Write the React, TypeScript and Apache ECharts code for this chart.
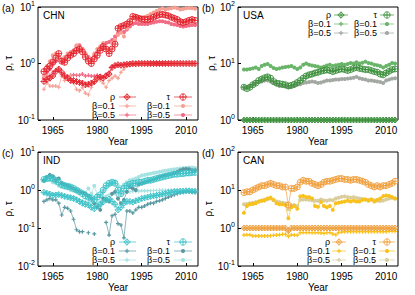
import React, { useEffect, useRef } from 'react';
import * as echarts from 'echarts';

// ---------- data ----------
const YEARS: number[] = [];
for (let y = 1962; y <= 2013; y++) YEARS.push(y);
const X_TICKS = [1965, 1980, 1995, 2010];

// CHN
const CHN_RHO = [0.48,0.52,0.55,0.6,0.72,0.8,0.7,0.6,0.55,0.5, 0.5,0.48,0.46,0.45,0.42,0.43,0.45,0.48,0.56,0.58, 0.55,0.6,0.65,0.85,0.92,0.95,0.93,0.95,0.97,0.98, 1.0,0.99,1.0,1.0,1.0,1.0,1.0,1.0,1.0,1.0, 1.0,1.0,1.0,1.0,1.0,1.0,1.0,1.0,1.0,1.0, 1.0,1.0];
const CHN_TAU = [0.72,0.8,0.9,1.05,1.25,1.5,1.1,1.05,1.25,1.4, 1.5,1.7,1.8,1.6,1.3,1.1,1.0,1.2,1.4,1.7, 2.0,1.8,1.5,1.8,2.2,4.2,4.5,4.7,5.0,5.5, 6.8,6.6,6.3,6.1,6.0,6.0,6.2,6.6,7.0,7.3, 7.4,7.2,7.0,6.6,6.3,6.0,5.5,5.3,5.5,5.8, 6.0,5.8];
const CHN_B01_RHO = [0.35,0.45,0.4,0.4,0.4,0.38,0.6,0.5,0.55,0.6, 0.45,0.35,0.33,0.38,0.3,0.28,0.38,0.45,0.6,0.5, 0.45,0.38,0.5,0.55,0.6,0.55,0.7,0.8,0.9,0.92, 0.95,0.97,0.98,1.0,1.0,1.0,1.0,1.0,1.0,1.0, 1.0,1.0,1.0,1.0,1.0,1.0,1.0,1.0,1.0,1.0, 1.0,1.0];
const CHN_B01_TAU = [0.6,0.9,1.1,1.4,1.5,1.3,1.2,1.3,1.5,1.6, 1.6,2.1,1.9,1.8,1.5,1.3,1.1,1.5,1.8,2.0, 2.3,1.8,1.8,2.3,2.6,3.2,3.5,3.0,4.2,5.5, 6.5,6.8,6.5,6.5,6.7,7.0,7.5,8.0,8.5,9.0, 9.5,9.0,9.3,9.5,9.8,9.5,9.0,9.2,9.5,9.6, 9.5,9.3];
const CHN_B05_RHO = [0.55,0.6,0.62,0.7,0.75,0.8,0.65,0.6,0.6,0.62, 0.63,0.62,0.62,0.65,0.6,0.62,0.6,0.6,0.62,0.6, 0.58,0.65,0.7,0.88,0.92,0.95,0.95,0.96,0.97,0.98, 1.0,1.0,1.0,1.0,1.0,1.0,1.0,1.0,1.0,1.0, 1.0,1.0,1.0,1.0,1.0,1.0,1.0,1.0,1.0,1.0, 1.0,1.0];
const CHN_B05_TAU = [0.55,0.7,0.8,1.0,1.1,1.3,1.1,1.2,1.4,1.5, 1.7,2.0,2.1,1.8,1.5,1.3,1.2,1.4,1.6,1.8, 2.1,2.3,2.4,2.6,3.0,3.4,3.6,3.6,4.0,4.5, 5.0,5.2,5.0,5.0,5.0,5.0,5.2,5.3,5.5,5.6, 5.6,5.4,5.3,5.0,4.9,4.8,4.6,4.5,4.6,4.7, 4.8,4.8];

// USA
const USA_RHO = [1,1,1,1,1,1,1,1,1,1, 1,1,1,1,1,1,1,1,1,1, 1,1,1,1,1,1,1,1,1,1, 1,1,1,1,1,1,1,1,1,1, 1,1,1,1,1,1,1,1,1,1, 1,1];
const USA_TAU = [3.8,3.6,3.8,4.2,4.5,5.0,5.3,5.6,5.8,5.5, 4.8,4.5,4.4,4.3,4.2,4.0,4.1,4.3,4.6,5.0, 5.5,6.0,6.3,6.5,6.8,7.0,7.3,7.5,7.7,7.5, 7.2,7.5,7.8,8.0,7.8,7.5,7.8,8.2,8.5,8.2, 8.0,7.8,7.8,7.5,7.2,7.0,6.5,6.3,6.8,7.3, 7.8,8.0];
const USA_B01_RHO = [1,1,1,1,1,1,1,1,1,1, 1,1,1,1,1,1,1,1,1,1, 1,1,1,1,1,1,1,1,1,1, 1,1,1,1,1,1,1,1,1,1, 1,1,1,1,1,1,1,1,1,1, 1,1];
const USA_B01_TAU = [7.8,7.8,8.0,8.2,8.5,8.0,9.0,9.5,9.8,9.0, 8.3,8.0,8.2,8.5,8.7,8.8,9.0,8.5,8.0,8.5, 9.5,10.0,9.5,9.2,9.0,8.8,8.5,8.8,9.2,9.5, 9.0,9.3,9.5,9.8,9.5,9.8,10.2,10.0,10.5,10.0, 10.3,10.8,10.2,10.0,9.5,9.3,9.0,8.5,9.0,9.5, 10.2,10.0];
const USA_B05_RHO = [1,1,1,1,1,1,1,1,1,1, 1,1,1,1,1,1,1,1,1,1, 1,1,1,1,1,1,1,1,1,1, 1,1,1,1,1,1,1,1,1,1, 1,1,1,1,1,1,1,1,1,1, 1,1];
const USA_B05_TAU = [3.8,3.8,4.0,4.2,4.5,4.7,4.8,5.0,5.0,4.8, 4.5,4.3,4.0,4.0,3.9,3.8,3.9,4.0,4.2,4.3, 4.5,4.6,4.7,4.8,4.7,4.5,4.6,4.8,5.0,5.0, 5.1,5.2,5.2,5.3,5.3,5.4,5.5,5.6,5.8,5.5, 5.3,5.2,5.0,5.0,4.9,4.8,4.7,4.5,5.0,5.2, 5.4,5.5];

// IND
const IND_RHO = [0.87,0.82,0.78,0.72,0.74,0.76,0.72,0.68,0.65,0.62, 0.6,0.55,0.5,0.45,0.42,0.4,0.35,0.32,0.38,0.42, 0.48,0.55,0.58,0.5,0.42,0.3,0.35,0.45,0.5,0.5, 0.48,0.52,0.55,0.6,0.62,0.65,0.68,0.7,0.72,0.75, 0.78,0.8,0.85,0.87,0.9,0.9,0.92,0.93,0.95,0.95, 0.93,0.92];
const IND_TAU = [1.9,2.0,2.1,2.0,1.8,1.6,1.4,1.3,1.25,1.2, 1.1,1.0,0.9,0.8,0.7,0.65,0.6,0.55,0.65,0.75, 1.0,1.3,1.5,1.6,1.5,1.0,0.8,1.1,1.3,1.4, 1.5,1.5,1.6,1.6,1.7,1.8,1.8,1.9,2.0,2.1, 2.2,2.3,2.4,2.5,2.6,2.6,2.7,2.7,2.8,2.8, 2.9,2.9];
const IND_B01_RHO = [0.5,0.55,0.6,0.55,0.55,0.45,0.22,0.35,0.33,0.28, 0.17,0.09,0.08,0.08,null,0.075,null,0.07,null,null, null,0.14,0.065,0.21,0.23,0.13,0.12,0.055,0.28,0.28, 0.25,0.3,0.35,0.35,0.38,0.42,0.45,0.45,0.5,0.52, 0.55,0.6,0.65,0.7,0.75,0.8,0.85,0.88,0.9,0.9, 0.88,0.88];
const IND_B01_TAU = [1.8,2.2,2.5,2.3,1.8,2.0,1.5,1.4,1.3,1.2, 1.1,1.0,0.9,0.85,0.8,0.7,0.6,0.45,0.35,0.3, 0.6,0.55,0.5,0.8,0.9,0.6,0.45,0.55,0.9,1.2, 1.1,1.0,1.4,1.5,1.6,1.7,1.8,1.9,2.0,2.2, 2.3,2.4,2.5,2.6,2.8,3.0,3.3,3.5,3.6,3.5, 3.3,3.3];
const IND_B05_RHO = [0.85,0.82,0.8,0.78,0.78,0.78,0.75,0.72,0.7,0.68, 0.65,0.6,0.55,0.52,0.5,0.48,0.45,0.42,0.45,0.5, 0.6,0.7,0.75,0.8,0.8,0.6,0.75,0.85,0.9,0.9, 0.92,0.92,0.93,0.95,0.95,0.96,0.96,0.97,0.97,0.98, 0.98,0.98,0.99,0.99,1.0,1.0,1.0,1.0,1.0,1.0, 1.0,1.0];
const IND_B05_TAU = [1.7,1.9,1.8,1.6,1.5,1.3,1.2,1.15,1.1,1.0, 0.95,0.9,0.9,0.85,0.85,1.1,0.8,1.3,0.75,0.7, 0.9,1.2,1.4,1.6,1.7,1.3,1.2,1.4,1.6,1.8, 1.9,2.0,2.2,2.4,2.5,2.6,2.7,2.8,2.9,3.0, 3.1,3.2,3.3,3.4,3.5,3.6,3.7,3.8,3.8,3.9, 3.9,3.8];

// CAN
const CAN_RHO = [1,1,1,1,1,1,1,1,1,1, 1,1,1,1,1,0.85,1,1,1,1, 1,1,1,1,1,1,1,1,1,1, 1,1,1,1,1,1,1,1,1,1, 1,1,1,1,1,1,1,1,1,1, 1,1];
const CAN_TAU = [8.5,9.0,9.0,10,11,12,13,13,14,15, 14,13,13,12,12,4.0,11,11,12,16, 18,17,17,15,14,13,14,16,17,17, 18,19,20,20,19,19,18,19,19,18, 17,16,14,13,12,13,12,13,13,14, 15,17];
const CAN_B01_RHO = [0.65,0.66,0.66,0.62,0.62,0.62,0.62,0.62,0.62,0.63, 0.64,0.65,0.66,0.68,0.68,0.6,0.66,0.65,0.64,0.75, 0.76,0.76,0.76,0.75,0.75,0.75,0.74,0.72,0.75,0.76, 0.7,0.66,0.76,0.78,0.8,0.8,0.8,0.8,0.8,0.8, 0.8,0.8,0.8,0.8,0.8,0.8,0.8,0.8,0.8,0.82, 0.82,0.82];
const CAN_B01_TAU = [2.5,3.8,4.2,4.3,4.5,5.0,5.2,5.3,6.0,6.3, 5.5,4.5,4.2,4.2,4.0,1.8,3.5,3.8,3.2,6.8, 7.0,6.5,6.5,6.0,3.8,3.6,4.8,3.8,3.5,3.8, 3.0,4.5,4.6,4.8,5.0,5.2,5.0,5.2,5.0,5.0, 5.5,5.6,5.2,5.6,5.0,5.5,6.0,6.9,7.2,7.0, 6.5,6.0];
const CAN_B05_RHO = [0.96,0.96,0.96,0.96,0.96,0.96,0.96,0.96,0.96,0.96, 0.96,0.96,0.96,0.96,0.96,0.8,0.96,0.96,0.96,0.96, 0.96,0.96,0.96,0.96,0.96,0.96,0.96,0.96,0.96,0.96, 0.96,0.96,0.96,0.96,0.96,0.96,0.96,0.96,0.96,0.96, 0.96,0.96,0.96,0.96,0.96,0.96,0.96,0.96,0.96,0.96, 0.96,0.96];
const CAN_B05_TAU = [4.2,4.3,4.5,4.6,4.8,5.0,5.3,5.6,5.8,6.0, 5.4,5.0,4.8,4.6,4.5,3.1,4.0,4.0,3.8,5.5, 5.6,5.6,5.5,5.4,5.2,5.2,5.6,5.3,5.2,5.5, 5.4,6.0,6.3,6.6,6.8,6.5,6.3,6.5,6.2,6.0, 5.8,5.6,5.5,5.6,5.4,5.2,5.1,5.3,5.6,6.0, 6.2,6.0];

// ---------- layout / style ----------
const FONT = '"Liberation Sans", Arial, Helvetica, sans-serif';
const DIAMOND_PLUS = 'path://M0,-10L10,0L0,10L-10,0ZM-10,0L10,0M0,-10L0,10';
const CIRCLE_PLUS = 'path://M0,-10A10,10,0,1,1,0,10A10,10,0,1,1,0,-10ZM-10,0L10,0M0,-10L0,10';
const PLUS = 'path://M-10,0L10,0M0,-10L0,10';

type Col = { tx: number; s1: number; s2: number; m: number };
type Leg = { rows: number[]; c1: Col; c2: Col };

const PANELS = [
  {
    letter: '(a)', name: 'CHN', left: 38, top: 7, width: 160, height: 113, yMin: 0.1, yMax: 10,
    colors: ['#e3222c', '#f6a094', '#f26a84'],
    series: [CHN_RHO, CHN_TAU, CHN_B01_RHO, CHN_B01_TAU, CHN_B05_RHO, CHN_B05_TAU],
    legend: { rows: [97, 106, 115], c1: { tx: 115, s1: 119, s2: 136, m: 127 }, c2: { tx: 170, s1: 174, s2: 192, m: 183 } } as Leg,
  },
  {
    letter: '(b)', name: 'USA', left: 238, top: 7, width: 160, height: 113, yMin: 1, yMax: 100,
    colors: ['#3d913d', '#68b468', '#a2a8a2'],
    series: [USA_RHO, USA_TAU, USA_B01_RHO, USA_B01_TAU, USA_B05_RHO, USA_B05_TAU],
    legend: { rows: [15, 24, 33], c1: { tx: 331, s1: 334, s2: 348, m: 341 }, c2: { tx: 377, s1: 380, s2: 394, m: 387 } } as Leg,
  },
  {
    letter: '(c)', name: 'IND', left: 38, top: 152, width: 160, height: 114, yMin: 0.01, yMax: 10,
    colors: ['#3cc3c8', '#5b99a2', '#a6e2e2'],
    series: [IND_RHO, IND_TAU, IND_B01_RHO, IND_B01_TAU, IND_B05_RHO, IND_B05_TAU],
    legend: { rows: [242, 251, 260], c1: { tx: 115, s1: 119, s2: 136, m: 127 }, c2: { tx: 170, s1: 174, s2: 192, m: 183 } } as Leg,
  },
  {
    letter: '(d)', name: 'CAN', left: 238, top: 152, width: 160, height: 114, yMin: 0.1, yMax: 100,
    colors: ['#f0a040', '#f8c11c', '#d9cd9e'],
    series: [CAN_RHO, CAN_TAU, CAN_B01_RHO, CAN_B01_TAU, CAN_B05_RHO, CAN_B05_TAU],
    legend: { rows: [242, 251, 260], c1: { tx: 330, s1: 332, s2: 346, m: 339 }, c2: { tx: 376, s1: 379, s2: 395, m: 387 } } as Leg,
  },
];

const KINDS = ['rho', 'tau', 'brho', 'btau', 'brho', 'btau'];
const COLOR_IDX = [0, 0, 1, 1, 2, 2];

function makeSeries(pi: number, kind: string, color: string, values: (number | null)[]) {
  const data = values.map((v, i) => [YEARS[i], v]);
  const base: any = {
    type: 'line', xAxisIndex: pi, yAxisIndex: pi, data, connectNulls: false,
    lineStyle: { color, width: 0.7 }, showSymbol: true, clip: false, silent: true,
    emphasis: { disabled: true }, animation: false,
  };
  if (kind === 'rho') return { ...base, symbol: DIAMOND_PLUS, symbolSize: 6, itemStyle: { color: 'rgba(0,0,0,0)', borderColor: color, borderWidth: 0.9 } };
  if (kind === 'tau') return { ...base, symbol: CIRCLE_PLUS, symbolSize: 6, itemStyle: { color: 'rgba(0,0,0,0)', borderColor: color, borderWidth: 0.9 } };
  if (kind === 'brho') return { ...base, symbol: PLUS, symbolSize: 4, itemStyle: { color: 'rgba(0,0,0,0)', borderColor: color, borderWidth: 1.2 } };
  return { ...base, symbol: 'circle', symbolSize: 4, itemStyle: { color, borderWidth: 0 } };
}

function markerEls(kind: string, cx: number, cy: number, color: string): any[] {
  const line = (x1: number, y1: number, x2: number, y2: number, w = 0.9) => ({ type: 'line', shape: { x1, y1, x2, y2 }, style: { stroke: color, lineWidth: w }, silent: true });
  if (kind === 'rho') {
    const r = 3.2;
    return [
      { type: 'polygon', shape: { points: [[cx, cy - r], [cx + r, cy], [cx, cy + r], [cx - r, cy]] }, style: { fill: 'none', stroke: color, lineWidth: 0.9 }, silent: true },
      line(cx - r, cy, cx + r, cy), line(cx, cy - r, cx, cy + r),
    ];
  }
  if (kind === 'tau') {
    const r = 3.2;
    return [
      { type: 'circle', shape: { cx, cy, r }, style: { fill: 'none', stroke: color, lineWidth: 0.9 }, silent: true },
      line(cx - r, cy, cx + r, cy), line(cx, cy - r, cx, cy + r),
    ];
  }
  if (kind === 'brho') {
    const r = 2.2;
    return [line(cx - r, cy, cx + r, cy, 1.2), line(cx, cy - r, cx, cy + r, 1.2)];
  }
  return [{ type: 'circle', shape: { cx, cy, r: 2.1 }, style: { fill: color, stroke: 'none' }, silent: true }];
}

function legendEls(L: Leg, colors: string[]): any[] {
  const els: any[] = [];
  const lab1 = ['ρ', 'β=0.1', 'β=0.5'];
  const lab2 = ['τ', 'β=0.1', 'β=0.5'];
  const k1 = ['rho', 'brho', 'brho'];
  const k2 = ['tau', 'btau', 'btau'];
  L.rows.forEach((y, r) => {
    const col = colors[r];
    const cols: [Col, string, string][] = [[L.c1, lab1[r], k1[r]], [L.c2, lab2[r], k2[r]]];
    cols.forEach(([c, txt, kind]) => {
      els.push({ type: 'text', x: c.tx, y, silent: true, style: { text: txt, fill: '#000', fontSize: 9, lineHeight: 9, fontFamily: FONT, align: 'right', verticalAlign: 'middle' } });
      els.push({ type: 'line', silent: true, shape: { x1: c.s1, y1: y, x2: c.s2, y2: y }, style: { stroke: col, lineWidth: 0.7 } });
      markerEls(kind, c.m, y, col).forEach((e) => els.push(e));
    });
  });
  return els;
}

function buildOption() {
  const grid: any[] = [];
  const xAxis: any[] = [];
  const yAxis: any[] = [];
  const series: any[] = [];
  const graphic: any[] = [];

  PANELS.forEach((p, pi) => {
    grid.push({ left: p.left, top: p.top, width: p.width, height: p.height, show: true, borderColor: '#000', borderWidth: 1, backgroundColor: 'transparent' });
    xAxis.push({
      type: 'value', gridIndex: pi, min: 1960, max: 2014,
      name: 'Year', nameLocation: 'middle', nameGap: 16,
      nameTextStyle: { fontSize: 10, fontFamily: FONT, color: '#000' },
      axisLine: { show: false },
      axisTick: { show: true, inside: true, length: 3, customValues: X_TICKS, lineStyle: { color: '#000', width: 1 } },
      axisLabel: { show: true, customValues: X_TICKS, fontSize: 10, fontFamily: FONT, color: '#000', margin: 5, formatter: (v: number) => String(v) },
      splitLine: { show: false },
    });
    yAxis.push({
      type: 'log', logBase: 10, gridIndex: pi, min: p.yMin, max: p.yMax,
      name: 'ρ, τ', nameLocation: 'middle', nameGap: 22, nameRotate: 90,
      nameTextStyle: { fontSize: 10, fontFamily: FONT, color: '#000' },
      axisLine: { show: false },
      axisTick: { show: true, inside: true, length: 3, lineStyle: { color: '#000', width: 1 } },
      axisLabel: {
        show: true, margin: 3,
        formatter: (v: number) => `{m|10}{e|${Math.round(Math.log10(v))}}`,
        rich: {
          m: { fontSize: 10, fontFamily: FONT, color: '#000', lineHeight: 14 },
          e: { fontSize: 7, fontFamily: FONT, color: '#000', lineHeight: 8, verticalAlign: 'top' },
        },
      },
      splitLine: { show: false },
      minorTick: { show: false },
    });

    // beta series first, main series last (on top)
    const order = [4, 5, 2, 3, 0, 1];
    order.forEach((si) => {
      series.push(makeSeries(pi, KINDS[si], p.colors[COLOR_IDX[si]], p.series[si] as (number | null)[]));
    });

    graphic.push({ type: 'text', x: p.left - 36, y: p.top + 1, silent: true, style: { text: p.letter, fontSize: 10, fontFamily: FONT, fill: '#000', align: 'left', verticalAlign: 'middle' } });
    graphic.push({ type: 'text', x: p.left + 5, y: p.top + 8, silent: true, style: { text: p.name, fontSize: 10, fontFamily: FONT, fill: '#000', align: 'left', verticalAlign: 'middle' } });
    legendEls(p.legend, p.colors).forEach((e) => graphic.push(e));
  });

  return { animation: false, backgroundColor: '#fff', grid, xAxis, yAxis, series, graphic };
}

export default function App() {
  const ref = useRef<HTMLDivElement>(null);
  useEffect(() => {
    if (!ref.current) return;
    const chart = echarts.init(ref.current, undefined, { renderer: 'svg' });
    chart.setOption(buildOption() as any);
    return () => chart.dispose();
  }, []);
  return <div ref={ref} style={{ position: 'absolute', left: 0, top: 0, width: 415, height: 295 }} />;
}
